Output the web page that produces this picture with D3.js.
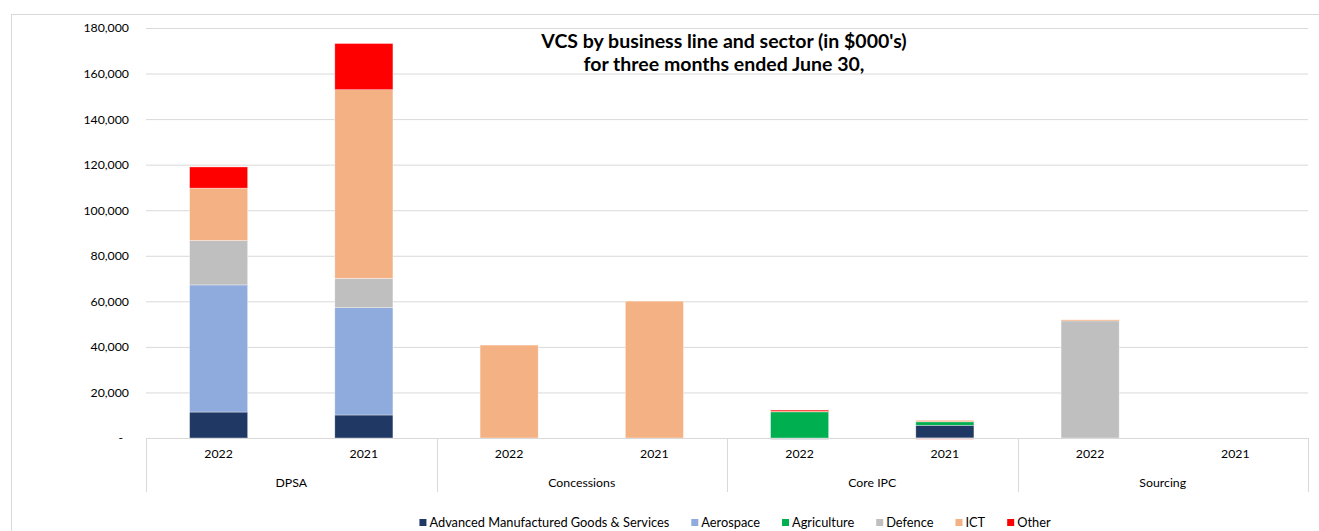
<!DOCTYPE html>
<html>
<head>
<meta charset="utf-8">
<script src="https://cdn.jsdelivr.net/npm/d3@7"></script>
<style>
  html, body { margin: 0; padding: 0; background: #fff; }
  svg { display: block; font-family: Lato, "Open Sans", sans-serif; }
</style>
</head>
<body>
<div id="chart"></div>
<script>
// VCS by business line and sector, stacked columns

const groups = ["DPSA", "Concessions", "Core IPC", "Sourcing"];
const years = ["2022", "2021"];

const seriesNames = [
  "Advanced Manufactured Goods & Services",
  "Aerospace",
  "Agriculture",
  "Defence",
  "ICT",
  "Other"
];
const seriesColors = ["#203864", "#8faadc", "#00b050", "#bfbfbf", "#f4b183", "#ff0000"];

// order: DPSA 22, DPSA 21, Concessions 22, 21, Core IPC 22, 21, Sourcing 22, 21
const advanced    = [11400, 10100,     0,     0,  -300, 5600,     0, 0];
const aerospace   = [55800, 47100,     0,     0,     0,    0,     0, 0];
const agriculture = [    0,     0,     0,     0, 11800, 1500,     0, 0];
const defence     = [19500, 12900,     0,     0,     0,    0, 51700, 0];
const ict         = [23000, 82800, 40800, 60100,   150,  700,   200, 0];
const other       = [ 9300, 20300,     0,     0,   300, -500,     0, 0];

const yTicks = [0, 20000, 40000, 60000, 80000, 100000, 120000, 140000, 160000, 180000];

const W = 1319, H = 531;
const plot = { left: 146, right: 1308, top: 28, bottom: 438 };

const allSeries = [advanced, aerospace, agriculture, defence, ict, other];
const table = [];
groups.forEach((g, gi) => {
  years.forEach((yr, yi) => {
    const i = gi * years.length + yi;
    const row = { key: g + "|" + yr, group: g, year: yr };
    seriesNames.forEach((s, si) => { row[s] = allSeries[si][i]; });
    table.push(row);
  });
});

const svg = d3.select("#chart").append("svg")
  .attr("width", W)
  .attr("height", H);

// chart area border (Excel style)
svg.append("rect")
  .attr("x", 11.5).attr("y", 14.5)
  .attr("width", W + 20).attr("height", H + 20)
  .attr("fill", "none")
  .attr("stroke", "#d9d9d9");

const x = d3.scaleBand()
  .domain(table.map(d => d.key))
  .range([plot.left, plot.right])
  .paddingInner(0.6)
  .paddingOuter(0.3);

const xg = d3.scaleBand()
  .domain(groups)
  .range([plot.left, plot.right]);

const y = d3.scaleLinear()
  .domain([0, 180000])
  .range([plot.bottom, plot.top]);

const color = d3.scaleOrdinal().domain(seriesNames).range(seriesColors);

// gridlines
svg.append("g")
  .attr("transform", `translate(${plot.left},0)`)
  .call(d3.axisLeft(y).tickValues(yTicks.slice(1)).tickSize(-(plot.right - plot.left)).tickFormat(""))
  .call(g => g.select(".domain").remove())
  .call(g => g.selectAll("line").attr("stroke", "#d9d9d9"));

// y labels
const fmt = d3.format(",");
svg.append("g")
  .attr("transform", `translate(${plot.left - 17},0)`)
  .call(d3.axisLeft(y).tickValues(yTicks).tickSize(0).tickPadding(0)
    .tickFormat(d => d === 0 ? "-" : fmt(d)))
  .call(g => g.select(".domain").remove())
  .call(g => g.selectAll("text")
    .attr("fill", "#000")
    .style("font-size", "12.3px")
    .style("font-family", "Lato, sans-serif")
    .attr("dx", d => d === 0 ? -6 : 0));

// stacked bars
const stack = d3.stack().keys(seriesNames).offset(d3.stackOffsetDiverging);
const layers = stack(table);

svg.append("g")
  .selectAll("g")
  .data(layers)
  .join("g")
  .attr("fill", d => color(d.key))
  .selectAll("rect")
  .data(d => d.filter(p => p[1] !== p[0]))
  .join("rect")
  .attr("x", d => x(d.data.key))
  .attr("y", d => y(Math.max(d[0], d[1])))
  .attr("width", x.bandwidth())
  .attr("height", d => Math.max(1.2, Math.abs(y(d[0]) - y(d[1]))))
  .attr("stroke", "#ffffff")
  .attr("stroke-opacity", 0.6)
  .attr("stroke-width", 0.6);

// x axis line and category separators
const axisG = svg.append("g");
axisG.append("line")
  .attr("x1", plot.left).attr("x2", plot.right)
  .attr("y1", plot.bottom + 0.5).attr("y2", plot.bottom + 0.5)
  .attr("stroke", "#d9d9d9");

const sepX = groups.map(g => xg(g)).concat([plot.right]);
axisG.selectAll(".sep")
  .data(sepX)
  .join("line")
  .attr("class", "sep")
  .attr("x1", d => Math.round(d) + 0.5).attr("x2", d => Math.round(d) + 0.5)
  .attr("y1", plot.bottom).attr("y2", 492)
  .attr("stroke", "#d9d9d9");

// year labels
svg.append("g")
  .attr("transform", `translate(0,${plot.bottom})`)
  .call(d3.axisBottom(x).tickSize(0).tickPadding(11).tickFormat(k => k.split("|")[1]))
  .call(g => g.select(".domain").remove())
  .call(g => g.selectAll("text").attr("fill", "#000").style("font-size", "12.3px").style("font-family", "Lato, sans-serif"));

// group labels
svg.append("g")
  .selectAll("text")
  .data(groups)
  .join("text")
  .attr("x", d => xg(d) + xg.bandwidth() / 2)
  .attr("y", 487)
  .attr("text-anchor", "middle")
  .style("font-size", "12.3px")
  .text(d => d);

// title
const title = svg.append("text")
  .attr("x", 724)
  .attr("text-anchor", "middle")
  .style("font-size", "19.5px")
  .style("font-weight", "700");
title.append("tspan").attr("x", 724).attr("y", 48).text("VCS by business line and sector (in $000's)");
title.append("tspan").attr("x", 724).attr("y", 71).text("for three months ended June 30,");

// legend
const legend = svg.append("g");
const items = legend.selectAll("g")
  .data(seriesNames)
  .join("g");
items.append("rect")
  .attr("width", 7).attr("height", 7)
  .attr("y", -8)
  .attr("fill", d => color(d));
items.append("text")
  .attr("x", 10)
  .attr("y", 0)
  .style("font-size", "12.8px")
  .text(d => d);

let cx = 0;
items.each(function () {
  const w = d3.select(this).select("text").node().getComputedTextLength();
  d3.select(this).attr("transform", `translate(${cx},0)`);
  cx += 10 + w + 22;
});
const legendW = cx - 22;
legend.attr("transform", `translate(${735 - legendW / 2},${527})`);
</script>
</body>
</html>
